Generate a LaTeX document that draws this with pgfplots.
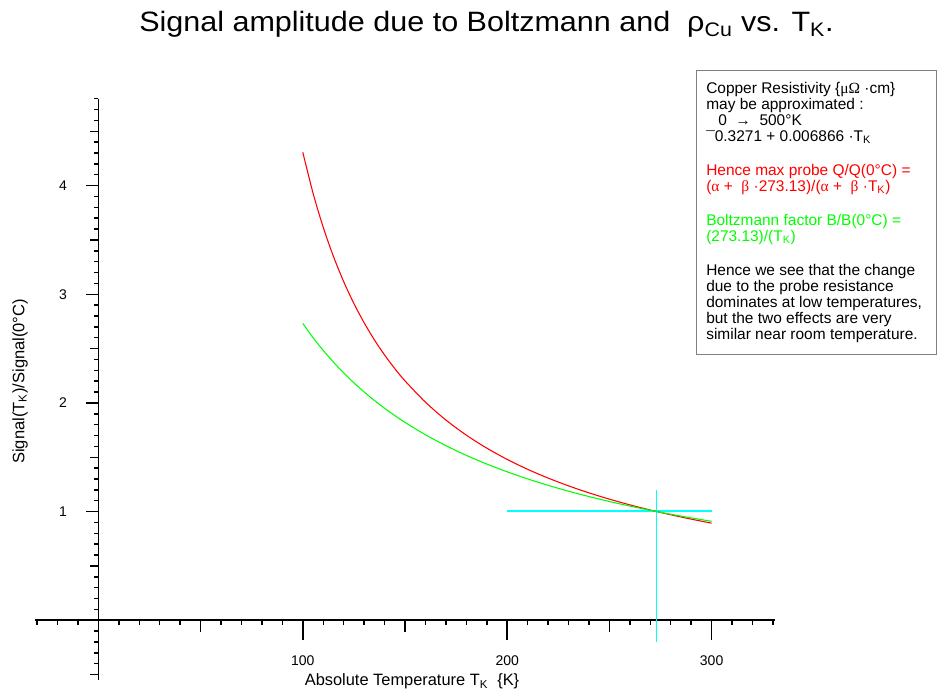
\documentclass[border=0pt]{standalone}
\usepackage{pgfplots}
\pgfplotsset{compat=1.18}
\usepackage{fontspec}
\setmainfont{Liberation Sans}
\newfontfamily\symfont{Liberation Serif}
\usetikzlibrary{calc}
\definecolor{cyanl}{RGB}{0,255,255}
\definecolor{redl}{RGB}{255,0,0}
\definecolor{greenl}{RGB}{0,255,0}
\begin{document}
\begin{tikzpicture}
\begin{axis}[name=ax,
  scale only axis, width=555pt, height=436pt,
  xmin=-31, xmax=331, ymin=-0.55, ymax=4.8,
  axis lines=middle, axis line style={-, line width=1.2pt},
  tick align=outside,
  tick style={black, line width=1.1pt},
  major tick length=9pt, minor tick length=3.4pt,
  xtick={50,150,250}, xticklabels={{},{},{}},
  minor xtick={-30,-20,...,330},
  extra x ticks={100,200,300}, extra x tick labels={100,200,300},
  extra x tick style={major tick length=15pt, tick align=outside},
  ytick={1,2,3,4},
  minor ytick={-0.5,-0.4,...,4.8},
  extra y ticks={-0.5,0.5,1.5,2.5,3.5,4.5}, extra y tick labels={},
  extra y tick style={major tick length=6pt, tick align=outside},
  /pgf/number format/assume math mode=true,
  tick label style={font=\fontsize{10.5}{12}\selectfont},
  xticklabel style={yshift=-8pt},
  yticklabel style={xshift=-11pt},
  clip=false,
]
\addplot[draw=cyanl, line width=1.6pt] coordinates {(200,1.002)(300,1.002)};
\addplot[draw=cyanl, line width=1pt] coordinates {(273.13,-0.2)(273.13,1.2)};
\addplot[redl, line width=0.8pt, smooth] coordinates {
(100,4.3066)(105,3.9312)(110,3.6160)(115,3.3476)(120,3.1163)(125,2.9148)(130,2.7379)(135,2.5812)(140,2.4414)(145,2.3161)(150,2.2029)(160,2.0069)(170,1.8428)(180,1.7036)(190,1.5839)(200,1.4800)(210,1.3888)(220,1.3083)(230,1.2365)(240,1.1722)(250,1.1143)(260,1.0618)(270,1.0141)(280,0.9704)(290,0.9304)(300,0.8935)};
\addplot[greenl, line width=0.8pt, smooth] coordinates {
(100,2.7313)(105,2.6012)(110,2.4830)(115,2.3750)(120,2.2761)(125,2.1850)(130,2.1010)(135,2.0232)(140,1.9509)(145,1.8837)(150,1.8209)(160,1.7071)(170,1.6066)(180,1.5174)(190,1.4375)(200,1.3657)(210,1.3006)(220,1.2415)(230,1.1875)(240,1.1380)(250,1.0925)(260,1.0505)(270,1.0116)(280,0.9755)(290,0.9418)(300,0.9104)};
\end{axis}
\coordinate (O) at (ax.south west);
\node[anchor=base, xscale=1.09, font=\fontsize{21}{24}\selectfont] at ($(O)+(338.6pt,486pt)$) {Signal amplitude due to Boltzmann and \ ρ\textsubscript{Cu} vs. T\textsubscript{K}.};
\node[anchor=base, font=\fontsize{12.3}{14}\selectfont] at ($(O)+(282.75pt,-4.5pt)$) {Absolute Temperature T\textsubscript{K} \ \{K\}};
\node[font=\fontsize{12.4}{14}\selectfont, rotate=90] at ($(O)+(-11.25pt,224pt)$) {Signal(T\textsubscript{K})/Signal(0°C)};
\draw[gray, line width=0.6pt] ($(O)+(495.75pt,457.5pt)$) rectangle ($(O)+(675.75pt,244.5pt)$);
\node[anchor=north west, inner sep=0pt, align=left, font=\fontsize{11.6}{12}\selectfont] at ($(O)+(503.25pt,448.5pt)$) {%
Copper Resistivity \{{\symfont μΩ} ·cm\}\\
may be approximated :\\
\hspace*{9pt}0 \ → \ 500°K\\
\raisebox{-1pt}{¯}0.3271 + 0.006866 ·T\textsubscript{K}\\[13.5pt]
\textcolor{redl}{Hence max probe Q/Q(0°C) =}\\
\textcolor{redl}{({\symfont α} + \ {\symfont β} ·273.13)/({\symfont α} + \ {\symfont β} ·T\textsubscript{K})}\\[13.5pt]
\textcolor{greenl}{Boltzmann factor B/B(0°C) =}\\
\textcolor{greenl}{(273.13)/(T\textsubscript{K})}\\[13.5pt]
Hence we see that the change\\
due to the probe resistance\\
dominates at low temperatures,\\
but the two effects are very\\
similar near room temperature.};
\pgfresetboundingbox
\path[use as bounding box] ($(O)+(-26.25pt,-12pt)$) rectangle ($(O)+(681pt,510pt)$);
\end{tikzpicture}
\end{document}
